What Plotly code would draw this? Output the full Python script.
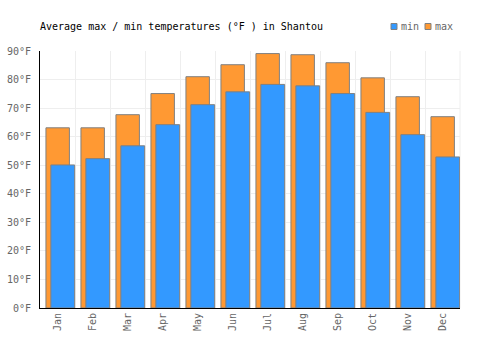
import plotly.graph_objects as go

months = ["Jan", "Feb", "Mar", "Apr", "May", "Jun", "Jul", "Aug", "Sep", "Oct", "Nov", "Dec"]
max_temp = [63.1, 63.1, 67.7, 75.1, 81.0, 85.2, 89.1, 88.7, 85.9, 80.6, 74.0, 67.0]
min_temp = [50.1, 52.3, 56.8, 64.2, 71.2, 75.7, 78.3, 77.8, 75.1, 68.5, 60.7, 52.9]
y_ticks = [0, 10, 20, 30, 40, 50, 60, 70, 80, 90]

BLUE = "#3399ff"
ORANGE = "#ff9933"
EDGE = "#808080"
FONT = "DejaVu Sans Mono"

fig = go.Figure()
fig.add_trace(go.Bar(
    x=months, y=max_temp, name="max", marker=dict(color=ORANGE, line=dict(color=EDGE, width=1)),
    offset=-0.33, width=0.67, showlegend=False,
))
fig.add_trace(go.Bar(
    x=months, y=min_temp, name="min", marker=dict(color=BLUE, line=dict(color=EDGE, width=1)),
    offset=-0.19, width=0.68, showlegend=False,
))

W, H = 500, 350
L, R, T, B = 40, 40, 51, 42

fig.update_layout(
    width=W, height=H, barmode="overlay",
    margin=dict(l=L, r=R, t=T, b=B, pad=0, autoexpand=False),
    plot_bgcolor="white", paper_bgcolor="white",
    font=dict(family=FONT, size=10, color="#666666"),
    title=dict(text="Average max / min temperatures (°F ) in Shantou",
               x=L / W, xanchor="left", y=1 - 26.5 / H, yanchor="middle",
               font=dict(family=FONT, size=10, color="#000000")),
    xaxis=dict(type="category", range=[-0.5, 11.5], tickangle=-90, automargin=False,
               showgrid=True, gridcolor="#eeeeee", gridwidth=1,
               showline=True, linecolor="#000000", linewidth=1,
               ticks="", tickson="boundaries",
               tickfont=dict(family=FONT, size=10, color="#666666")),
    yaxis=dict(range=[0, 90], tickvals=y_ticks, ticktext=[f"{v}°F" for v in y_ticks],
               automargin=False,
               showgrid=True, gridcolor="#eeeeee", gridwidth=1,
               showline=True, linecolor="#000000", linewidth=1, zeroline=False,
               ticks="", ticklabelstandoff=6,
               tickfont=dict(family=FONT, size=10, color="#666666")),
)
fig.add_shape(type="line", xref="paper", yref="paper", x0=1, x1=1, y0=0, y1=1,
              line=dict(color="#eeeeee", width=1), layer="below")

# custom compact legend
def px_x(p):
    return (p - L) / (W - L - R)

def px_y(p):
    return (H - B - p) / (H - T - B)

legend_items = [("min", BLUE, 391), ("max", ORANGE, 425)]
for name, col, x0 in legend_items:
    fig.add_shape(type="rect", xref="paper", yref="paper",
                  x0=px_x(x0), x1=px_x(x0 + 6), y0=px_y(29.5), y1=px_y(23.5),
                  fillcolor=col, line=dict(color=EDGE, width=1))
    fig.add_annotation(text=name, xref="paper", yref="paper", x=px_x(x0 + 8), y=px_y(26.5),
                       xanchor="left", yanchor="middle", showarrow=False,
                       font=dict(family=FONT, size=10, color="#666666"))

fig.write_html("out.html")
